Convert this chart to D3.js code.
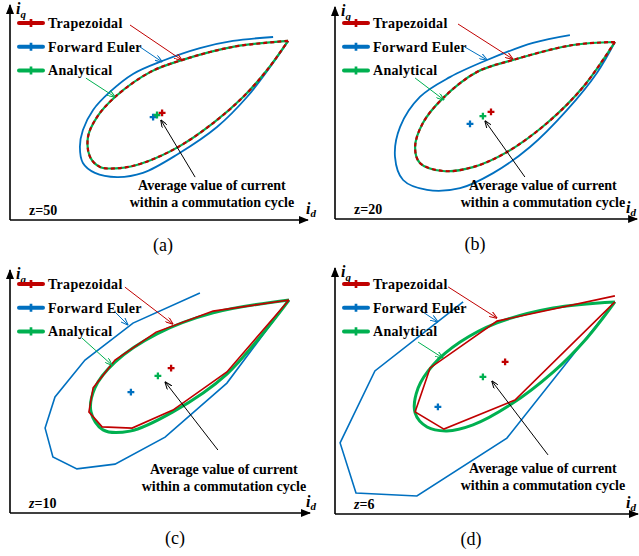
<!DOCTYPE html>
<html>
<head>
<meta charset="utf-8">
<script src="https://cdn.jsdelivr.net/npm/d3@7"></script>
<style>
body { margin: 0; background: #fff; }
text { font-family: "Liberation Serif", "Times New Roman", serif; }
</style>
</head>
<body>
<div id="chart"></div>
<script>
var series = ["Trapezoidal", "Forward Euler", "Analytical"];
var seriesColor = ["#c00000", "#0070c0", "#00b050"];

// (a) z=50  -- [id, iq]
var trapA = [[92.7,59.7],[74.3,57.7],[57.3,53.3],[46.7,49.3],[35,41],[29,34.3],[26,27.7],[26.7,21],[30,17.7],[36.7,17.3],[44.3,19],[56,24.3],[67.7,32.3],[77.7,41],[85.7,50],[92.7,59.7]];
var anaA = [[92.7,59.7],[74.3,57.7],[57.3,53.3],[46.7,49.3],[35,41],[29,34.3],[26,27.7],[26.7,21],[30,17.7],[36.7,17.3],[44.3,19],[56,24.3],[67.7,32.3],[77.7,41],[85.7,50],[92.7,59.7]];
var eulerA = [[92.7,59.7],[86.7,51],[79,41],[69,31],[56,22],[44.3,15.7],[35.7,14.3],[28.3,15.7],[24.3,19],[23.3,24.3],[24.3,30],[27.7,36.7],[33.3,42.7],[41,48.7],[50.7,53],[63.3,57.3],[74.3,59.7],[87.7,61]];
var meanA = [[50.7,35.7],[47.7,34.3],[49,35]]; // trap, euler, analytical

// (b) z=20
var trapB = [[93.3,59],[79.3,58],[59.3,53],[47.3,49],[36,40.3],[29.3,32],[26.7,24],[28.3,18.7],[36,16],[46,17.3],[57.3,22.3],[70.7,32],[82.7,44],[93.3,59]];
var anaB = [[93.3,59],[79.3,58],[59.3,53],[47.3,49],[36,40.3],[29.3,32],[26.7,24],[28.3,18.7],[36,16],[46,17.3],[57.3,22.3],[70.7,32],[82.7,44],[93.3,59]];
var eulerB = [[93.3,59],[87.3,48.7],[77.3,36.3],[65,24],[52.7,15.3],[41.7,10.3],[30.7,9.7],[22.7,13],[20,20.7],[21.7,30.7],[28.3,40.7],[38.3,47.3],[50.7,53],[66,58.7],[78.3,61.3]];
var meanB = [[52,35.7],[45,31.7],[49.3,34.3]];

// (c) z=10
var trapC = [[93,71],[67.7,67.3],[48.7,60.3],[35,51],[27.7,41.7],[26.3,33.7],[30.7,28.7],[40.7,28.3],[54.3,34.3],[72.3,47],[93,71]];
var anaC = [[93,71],[67.7,66.7],[49,59.7],[35,50.3],[28.3,41.7],[27,33.7],[31,27.7],[40,27.3],[54.3,33.7],[72.3,46.3],[93,71]];
var eulerC = [[63.3,73.3],[41,63.3],[25,51],[15,38.7],[11.7,28.3],[14.3,18.7],[22.3,14.7],[35,16.3],[51.7,25.3],[72.3,43.3],[93,71]];
var meanC = [[53.7,48.3],[40.3,40.3],[49.3,45.7]];

// (d) z=6
var trapD = [[93.3,72.7],[54,64.3],[31.7,48.7],[26.7,34],[36.3,28.3],[60,38],[93.3,70.7]];
var anaD = [[93.3,70.7],[72.7,68.7],[54,63.7],[41.7,57.3],[32.7,49.7],[27.7,42],[26.7,33.7],[30.7,29],[37.3,27.7],[46,29.7],[58.3,36.3],[72.7,47.3],[84,58.7],[93.3,70.7]];
var eulerD = [[42.7,70.7],[13.3,47.7],[1.7,23.7],[7,7],[27.3,6],[57.3,25.3],[93.3,70.7]];
var meanD = [[56.7,50.7],[34.3,35.7],[49.3,45.7]];

var zLabels = ["50", "20", "10", "6"];
var captions = ["(a)", "(b)", "(c)", "(d)"];
var noteLines = ["Average value of current", "within a commutation cycle"];

// layout of the four panels (pixels) and annotation positions (data units)
var panels = [
  {trap: trapA, euler: eulerA, ana: anaA, mean: meanA, fine: true, italicZ: false,
   ox: 10, oy: 220, xMax: 99.3, yMax: 71.7, legendY: 23, capX: 163,
   notes: [[40,65,57.3,53.3],[43.3,57.7,50.7,52.7],[25.3,47.3,35,41],[61.7,14.3,50.3,33.3]], textAt: [67.3,11.7]},
  {trap: trapB, euler: eulerB, ana: anaB, mean: meanB, fine: true, italicZ: false,
   ox: 335, oy: 219, xMax: 100.7, yMax: 70.7, legendY: 23, capX: 475,
   notes: [[41,65,59.3,53.3],[43.3,57.3,50.7,53],[26.7,47,36.3,39.7],[63.3,14,50,32.7]], textAt: [69.3,11.3]},
  {trap: trapC, euler: eulerC, ana: anaC, mean: meanC, fine: false, italicZ: true,
   ox: 10, oy: 513, xMax: 100, yMax: 81, legendY: 284, capX: 175,
   notes: [[38.3,75.3,54.3,63],[35,67,39.3,62.7],[24,58.3,34,49.3],[69.3,21,51.7,43.7]], textAt: [71.3,14.7]},
  {trap: trapD, euler: eulerD, ana: anaD, mean: meanD, fine: false, italicZ: true,
   ox: 335, oy: 514, xMax: 101, yMax: 82, legendY: 284, capX: 471,
   notes: [[37.7,75.7,54,65.3],[28.3,68,34.3,64],[27.7,57.3,36,52],[71,19.7,52.3,44.3]], textAt: [69.3,15.3]}
];

var svg = d3.select("#chart").append("svg")
    .attr("width", 639)
    .attr("height", 556);

var defs = svg.append("defs");
defs.append("marker")
    .attr("id", "axisHead")
    .attr("viewBox", "0 0 10 8")
    .attr("refX", 9).attr("refY", 4)
    .attr("markerWidth", 10).attr("markerHeight", 8)
    .attr("markerUnits", "userSpaceOnUse")
    .attr("orient", "auto")
  .append("path")
    .attr("d", "M0,0L10,4L0,8Z")
    .attr("fill", "#000");

var noteColor = seriesColor.concat(["#000"]);
noteColor.forEach(function(c, i) {
  defs.append("marker")
      .attr("id", "note" + i)
      .attr("viewBox", "0 0 8 6")
      .attr("refX", 7.5).attr("refY", 3)
      .attr("markerWidth", 8).attr("markerHeight", 6)
      .attr("markerUnits", "userSpaceOnUse")
      .attr("orient", "auto")
    .append("path")
      .attr("d", "M0,0L8,3L0,6")
      .attr("fill", "none")
      .attr("stroke", c)
      .attr("stroke-width", 1);
});

panels.forEach(function(p, k) {
  var x = d3.scaleLinear().domain([0, 100]).range([p.ox, p.ox + 300]);
  var y = d3.scaleLinear().domain([0, 100]).range([p.oy, p.oy - 300]);
  var g = svg.append("g");

  var smooth = d3.line()
      .x(function(d) { return x(d[0]); })
      .y(function(d) { return y(d[1]); })
      .curve(d3.curveCatmullRom.alpha(0.5));
  var poly = d3.line()
      .x(function(d) { return x(d[0]); })
      .y(function(d) { return y(d[1]); });

  // axes with arrow heads
  g.append("line")
      .attr("x1", x(0)).attr("y1", y(0))
      .attr("x2", x(p.xMax)).attr("y2", y(0))
      .attr("stroke", "#000").attr("stroke-width", 1.6)
      .attr("marker-end", "url(#axisHead)");
  g.append("line")
      .attr("x1", x(0)).attr("y1", y(0))
      .attr("x2", x(0)).attr("y2", y(p.yMax))
      .attr("stroke", "#000").attr("stroke-width", 1.6)
      .attr("marker-end", "url(#axisHead)");

  var iq = g.append("text")
      .attr("x", x(0) + 6).attr("y", y(p.yMax) + 9)
      .attr("font-weight", "bold").attr("font-style", "italic");
  iq.append("tspan").attr("font-size", "16px").text("i");
  iq.append("tspan").attr("font-size", "11px").attr("dy", 4).text("q");

  var id = g.append("text")
      .attr("x", Math.min(x(0) + 296, 626)).attr("y", y(0) - 6)
      .attr("font-weight", "bold").attr("font-style", "italic");
  id.append("tspan").attr("font-size", "16px").text("i");
  id.append("tspan").attr("font-size", "11px").attr("dy", 3).text("d");

  // curves
  g.append("path")
      .attr("d", (p.fine ? smooth : poly)(p.euler))
      .attr("fill", "none")
      .attr("stroke", seriesColor[1])
      .attr("stroke-width", p.fine ? 1.8 : 1.6);
  g.append("path")
      .attr("d", smooth(p.ana))
      .attr("fill", "none")
      .attr("stroke", seriesColor[2])
      .attr("stroke-width", p.fine ? 2.2 : 3);
  g.append("path")
      .attr("d", (p.fine ? smooth : poly)(p.trap))
      .attr("fill", "none")
      .attr("stroke", seriesColor[0])
      .attr("stroke-width", p.fine ? 2.2 : 1.6)
      .attr("stroke-dasharray", p.fine ? "4,3" : null);

  // average current points
  var cross = d3.symbol().type(d3.symbolCross).size(26);
  [1, 2, 0].forEach(function(i) {
    g.append("path")
        .attr("d", cross())
        .attr("transform", "translate(" + x(p.mean[i][0]) + "," + y(p.mean[i][1]) + ")")
        .attr("fill", seriesColor[i]);
  });

  // annotation arrows
  p.notes.forEach(function(n, i) {
    g.append("line")
        .attr("x1", x(n[0])).attr("y1", y(n[1]))
        .attr("x2", x(n[2])).attr("y2", y(n[3]))
        .attr("stroke", noteColor[i]).attr("stroke-width", 1)
        .attr("marker-end", "url(#note" + i + ")");
  });

  g.selectAll(".note")
      .data(noteLines).enter()
      .append("text")
      .attr("x", x(p.textAt[0]))
      .attr("y", function(d, i) { return y(p.textAt[1]) + i * 17; })
      .attr("dy", "0.35em")
      .attr("text-anchor", "middle")
      .attr("font-size", "14px")
      .attr("font-weight", "bold")
      .text(function(d) { return d; });

  // legend
  series.forEach(function(s, i) {
    var ly = p.legendY + i * 23.7;
    var lx = p.ox + 9;
    g.append("line")
        .attr("x1", lx).attr("x2", lx + 24)
        .attr("y1", ly).attr("y2", ly)
        .attr("stroke", seriesColor[i]).attr("stroke-width", 4)
        .attr("stroke-linecap", "round");
    g.append("path")
        .attr("d", d3.symbol().type(d3.symbolCross).size(36)())
        .attr("transform", "translate(" + (lx + 12) + "," + ly + ")")
        .attr("fill", seriesColor[i]);
    g.append("text")
        .attr("x", lx + 29).attr("y", ly)
        .attr("dy", "0.35em")
        .attr("font-size", "14px")
        .attr("font-weight", "bold")
        .attr("letter-spacing", "0.3px")
        .text(s);
  });

  // z label
  var zt = g.append("text")
      .attr("x", p.ox + 19).attr("y", p.oy - 5)
      .attr("font-size", "14px")
      .attr("font-weight", "bold");
  zt.append("tspan").attr("font-style", p.italicZ ? "italic" : "normal").text("z");
  zt.append("tspan").text("=" + zLabels[k]);

  svg.append("text")
      .attr("x", p.capX).attr("y", p.oy + 31)
      .attr("text-anchor", "middle")
      .attr("font-size", "18px")
      .text(captions[k]);
});
</script>
</body>
</html>
